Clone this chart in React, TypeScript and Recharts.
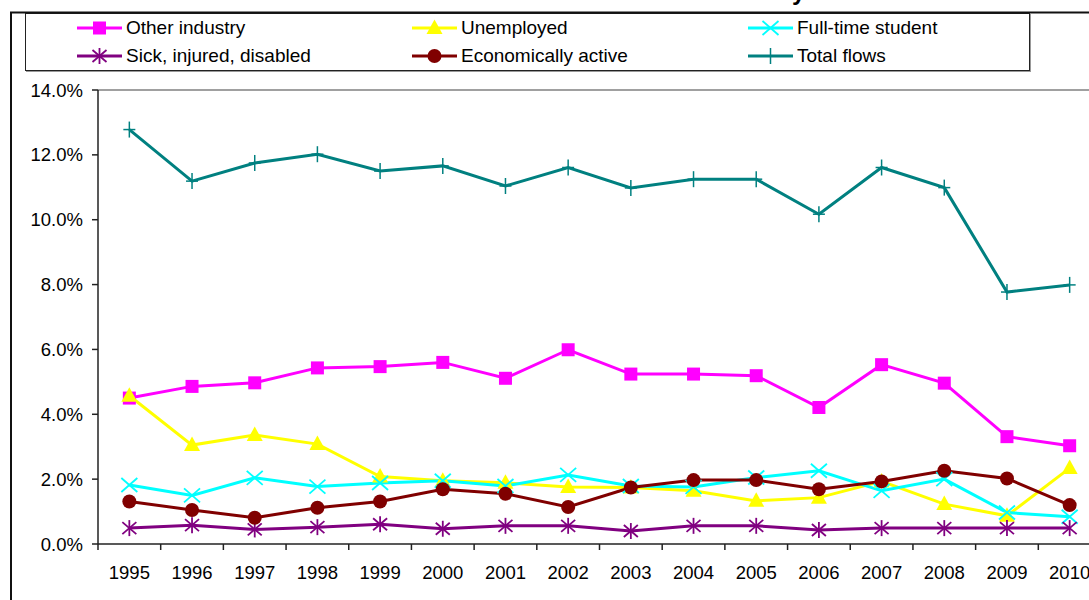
import React from 'react';
import { LineChart, Line, XAxis, YAxis, Legend, ReferenceLine } from 'recharts';

const years = ['1995', '1996', '1997', '1998', '1999', '2000', '2001', '2002', '2003', '2004', '2005', '2006', '2007', '2008', '2009', '2010'];

const otherIndustry = [4.5, 4.86, 4.97, 5.43, 5.47, 5.6, 5.11, 5.99, 5.24, 5.24, 5.19, 4.21, 5.53, 4.96, 3.31, 3.03];
const unemployed = [4.57, 3.05, 3.36, 3.08, 2.08, 1.95, 1.89, 1.76, 1.74, 1.64, 1.33, 1.43, 1.93, 1.23, 0.87, 2.34];
const fullTimeStudent = [1.82, 1.5, 2.04, 1.77, 1.88, 1.95, 1.79, 2.13, 1.79, 1.76, 2.05, 2.26, 1.64, 2.0, 0.97, 0.84];
const sickInjured = [0.49, 0.58, 0.45, 0.52, 0.61, 0.47, 0.56, 0.56, 0.4, 0.56, 0.56, 0.43, 0.49, 0.49, 0.49, 0.49];
const economicallyActive = [1.31, 1.05, 0.81, 1.12, 1.31, 1.69, 1.55, 1.14, 1.74, 1.97, 1.97, 1.69, 1.93, 2.26, 2.02, 1.2];
const totalFlows = [12.78, 11.19, 11.75, 12.02, 11.5, 11.66, 11.04, 11.61, 10.98, 11.25, 11.25, 10.17, 11.61, 10.99, 7.77, 7.99];

const yTicks = [0, 2, 4, 6, 8, 10, 12, 14];

type Shape = 'square' | 'triangle' | 'x' | 'star' | 'circle' | 'plus';

const series: { key: string; name: string; color: string; shape: Shape; values: number[] }[] = [
  { key: 'other', name: 'Other industry', color: '#FF00FF', shape: 'square', values: otherIndustry },
  { key: 'unemp', name: 'Unemployed', color: '#FFFF00', shape: 'triangle', values: unemployed },
  { key: 'student', name: 'Full-time student', color: '#00FFFF', shape: 'x', values: fullTimeStudent },
  { key: 'sick', name: 'Sick, injured, disabled', color: '#800080', shape: 'star', values: sickInjured },
  { key: 'active', name: 'Economically active', color: '#800000', shape: 'circle', values: economicallyActive },
  { key: 'total', name: 'Total flows', color: '#008080', shape: 'plus', values: totalFlows },
];

const data = years.map((year, i) => {
  const row: any = { year };
  series.forEach((s) => (row[s.key] = s.values[i]));
  return row;
});

const FONT = '"Liberation Sans", Arial, sans-serif';
const FONT_SIZE = 18.5;
const CHART_W = 1120;
const CHART_H = 600;
const Y_AXIS_W = 98;
const MARGIN = { top: 90, right: 19, bottom: 0, left: 0 };
const X_AXIS_H = 56;
const HALF_BAND = (CHART_W - Y_AXIS_W - MARGIN.right) / years.length / 2;

const Marker = ({ shape, color, cx, cy }: { shape: Shape; color: string; cx: number; cy: number }) => {
  if (cx == null || cy == null) return null;
  switch (shape) {
    case 'square':
      return <rect x={cx - 6.5} y={cy - 6.5} width={13} height={13} fill={color} />;
    case 'triangle':
      return <polygon points={`${cx},${cy - 8.5} ${cx - 8},${cy + 6} ${cx + 8},${cy + 6}`} fill={color} />;
    case 'x':
      return (
        <g stroke={color} strokeWidth={1.8}>
          <line x1={cx - 8} y1={cy - 7} x2={cx + 8} y2={cy + 7} />
          <line x1={cx - 8} y1={cy + 7} x2={cx + 8} y2={cy - 7} />
        </g>
      );
    case 'star':
      return (
        <g stroke={color} strokeWidth={1.8}>
          <line x1={cx - 7} y1={cy - 6} x2={cx + 7} y2={cy + 6} />
          <line x1={cx - 7} y1={cy + 6} x2={cx + 7} y2={cy - 6} />
          <line x1={cx} y1={cy - 8} x2={cx} y2={cy + 8} />
        </g>
      );
    case 'circle':
      return <circle cx={cx} cy={cy} r={7} fill={color} />;
    case 'plus':
    default:
      return (
        <g stroke={color} strokeWidth={1.5}>
          <line x1={cx} y1={cy - 8} x2={cx} y2={cy + 8} />
          <line x1={cx - 6} y1={cy} x2={cx + 6} y2={cy} />
        </g>
      );
  }
};

const XTick = (props: any) => {
  const { x, y, payload, index } = props;
  const axisY = y; // tickSize and tickMargin are 0
  const last = index === years.length - 1;
  return (
    <g>
      <line x1={x - HALF_BAND} x2={x - HALF_BAND} y1={axisY} y2={axisY + 6} stroke="#222" strokeWidth={1.5} />
      {last && <line x1={x + HALF_BAND} x2={x + HALF_BAND} y1={axisY} y2={axisY + 6} stroke="#222" strokeWidth={1.5} />}
      <text x={x} y={axisY + 34.5} textAnchor="middle" fill="#000" fontSize={FONT_SIZE} fontFamily={FONT}>
        {payload.value}
      </text>
    </g>
  );
};

const legendRows = [
  ['other', 'unemp', 'student'],
  ['sick', 'active', 'total'],
];
const legendCols = [51, 386, 722];
const legendRowCenters = [14, 42];

const LegendBox = () => (
  <div
    style={{
      position: 'relative',
      width: 1005,
      height: 58,
      border: '1.5px solid #222',
      boxSizing: 'border-box',
      boxShadow: '1px 1px 0 #999',
      background: '#fff',
    }}
  >
    {legendRows.map((row, r) =>
      row.map((key, c) => {
        const s = series.find((d) => d.key === key)!;
        return (
          <div
            key={key}
            style={{
              position: 'absolute',
              left: legendCols[c],
              top: legendRowCenters[r] - 11,
              height: 22,
              display: 'flex',
              alignItems: 'center',
              whiteSpace: 'nowrap',
            }}
          >
            <svg width={45} height={22}>
              <line x1={0} x2={45} y1={11} y2={11} stroke={s.color} strokeWidth={3} />
              <Marker shape={s.shape} color={s.color} cx={22.5} cy={11} />
            </svg>
            <span style={{ marginLeft: 4, fontFamily: FONT, fontSize: 19, color: '#000', lineHeight: '22px' }}>{s.name}</span>
          </div>
        );
      })
    )}
  </div>
);

export default function App() {
  return (
    <div style={{ position: 'absolute', left: 0, top: 0, width: 1089, height: 600, overflow: 'hidden', background: '#fff' }}>
      <LineChart width={CHART_W} height={CHART_H} data={data} margin={MARGIN}>
        <XAxis
          dataKey="year"
          height={X_AXIS_H}
          interval={0}
          padding={{ left: HALF_BAND, right: HALF_BAND }}
          tickSize={0}
          tickMargin={0}
          tickLine={false}
          axisLine={{ stroke: '#222', strokeWidth: 1.5 }}
          tick={<XTick />}
        />
        <YAxis
          width={Y_AXIS_W}
          type="number"
          domain={[0, 14]}
          ticks={yTicks}
          interval={0}
          tickFormatter={(v: number) => `${v.toFixed(1)}%`}
          tickSize={6}
          tickMargin={9}
          axisLine={{ stroke: '#222', strokeWidth: 1.5 }}
          tickLine={{ stroke: '#222', strokeWidth: 1.5 }}
          tick={{ fill: '#000', fontSize: FONT_SIZE, fontFamily: FONT }}
        />
        <ReferenceLine y={14} stroke="#a0a0a0" strokeWidth={2} />
        <Legend
          layout="horizontal"
          verticalAlign="middle"
          align="center"
          wrapperStyle={{ left: 25, top: 13, width: 1005, height: 58 }}
          content={() => <LegendBox />}
        />
        {series.map((s) => (
          <Line
            key={s.key}
            dataKey={s.key}
            name={s.name}
            type="linear"
            stroke={s.color}
            strokeWidth={3}
            isAnimationActive={false}
            activeDot={false}
            dot={(p: any) => <Marker key={`${s.key}-${p.index}`} shape={s.shape} color={s.color} cx={p.cx} cy={p.cy} />}
          />
        ))}
      </LineChart>
      <svg width={1089} height={600} style={{ position: 'absolute', left: 0, top: 0, pointerEvents: 'none' }}>
        <line x1={11} x2={11} y1={12} y2={600} stroke="#111" strokeWidth={2} />
        <line x1={10} x2={1089} y1={12.5} y2={12.5} stroke="#111" strokeWidth={2} />
        <text x={792} y={0} fontSize={24} fontWeight="bold" fontFamily={FONT} fill="#000">
          y
        </text>
      </svg>
    </div>
  );
}
